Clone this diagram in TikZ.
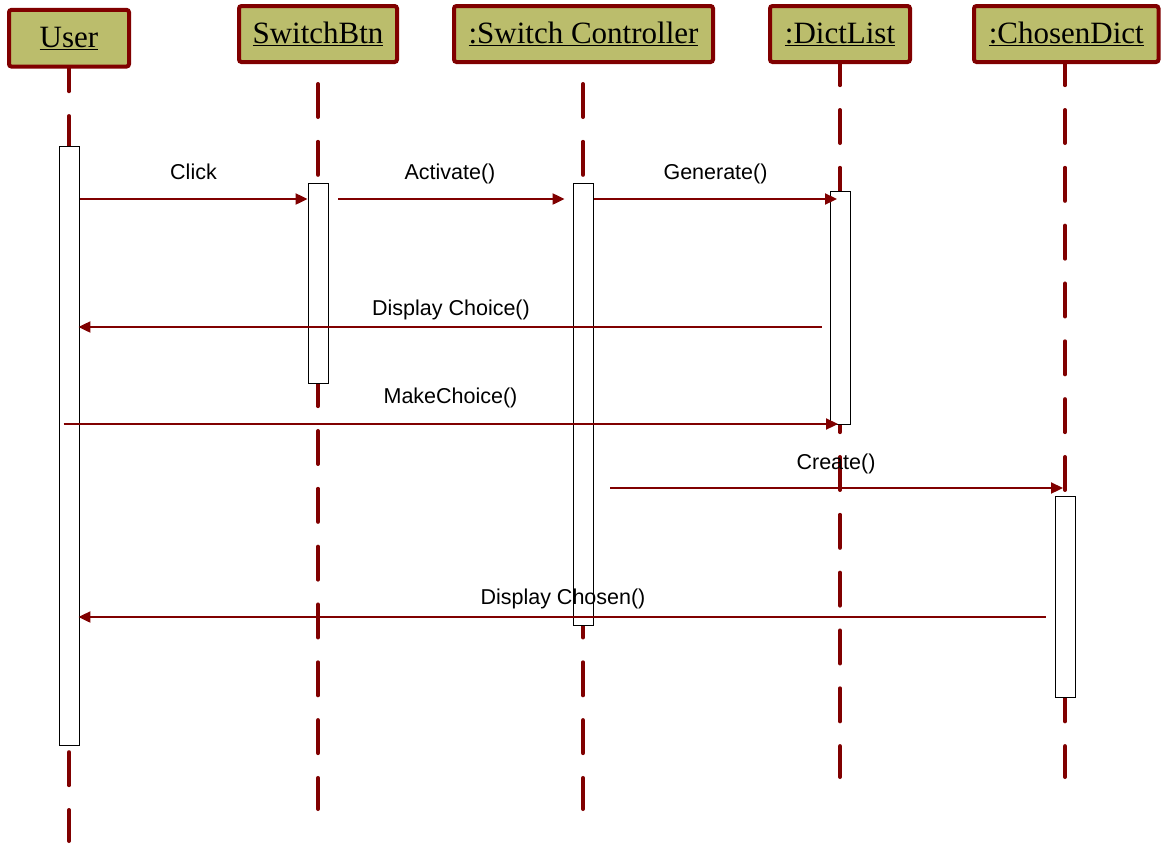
\documentclass[tikz,border=0pt]{standalone}
\usepackage{fontspec}
\setmainfont{Liberation Serif}
\newfontfamily\labfont{Liberation Sans}
\usetikzlibrary{arrows.meta,backgrounds}
\definecolor{dred}{RGB}{128,0,0}
\definecolor{olivefill}{RGB}{187,189,108}
\tikzset{
  head/.style={draw=dred, line width=4pt, fill=olivefill, rounded corners=2.5pt,
    inner sep=0pt, font=\fontsize{31}{36}\selectfont},
  life/.style={draw=dred, line width=4pt, line cap=round,
    dash pattern=on 33pt off 24.83pt},
  actbox/.style={draw=black, line width=0.9pt, fill=white, minimum width=20pt, inner sep=0pt},
  msg/.style={draw=dred, line width=2.2pt, -{Triangle[length=12pt,width=11pt]}},
  lbl/.style={font=\labfont\fontsize{21.5}{24}\selectfont, anchor=base, inner sep=0pt},
}
\begin{document}
\begin{tikzpicture}[x=1pt,y=-1pt]
\useasboundingbox (0,0) rectangle (1161,846);
% heads
\node[head, minimum width=120pt, minimum height=56.7pt] (uhead) at (69,38.2) {\underline{User}};
\node[head, minimum width=158pt, minimum height=56pt] (shead) at (318,34) {\underline{SwitchBtn}};
\node[head, minimum width=259pt, minimum height=56pt] (chead) at (583.5,34) {\underline{:Switch Controller}};
\node[head, minimum width=140pt, minimum height=56pt] (dhead) at (840,34) {\underline{:DictList}};
\node[head, minimum width=184.5pt, minimum height=56pt] (xhead) at (1066.25,34) {\underline{:ChosenDict}};
% lifeline ends
\coordinate (uend) at (69,841);
\coordinate (send) at (318,809);
\coordinate (cend) at (583,809);
\coordinate (dend) at (840,777);
\coordinate (xend) at (1065,777);
\begin{pgfonlayer}{background}
\fill[white] (0,0) rectangle (1161,846);
\draw[life, dash phase=10.33pt] (uhead.south) -- (uend);
\draw[life, dash phase=37.83pt] (shead.south) -- (send);
\draw[life, dash phase=37.83pt] (chead.south -| cend) -- (cend);
\draw[life, dash phase=11.83pt] (dhead.south) -- (dend);
\draw[life, dash phase=11.83pt] (xhead.south -| xend) -- (xend);
\end{pgfonlayer}
% activation boxes
\node[actbox, minimum height=599pt] (uact) at (69,445.5) {};
\node[actbox, minimum height=200pt] (sact) at (318,283) {};
\node[actbox, minimum height=442pt] (cact) at (583,404) {};
\node[actbox, minimum height=233pt] (dact) at (840,307.5) {};
\node[actbox, minimum height=201pt] (xact) at (1065,596.5) {};
% message rows
\coordinate (r1) at (0,199);
\coordinate (r2) at (0,327);
\coordinate (r3) at (0,424);
\coordinate (r4) at (0,488);
\coordinate (r5) at (0,617);
% messages
\draw[msg, shorten <=1pt] (uact.east |- r1) -- (sact.west |- r1);
\draw[msg, shorten <=10pt, shorten >=8pt] (sact.east |- r1) -- (cact.west |- r1);
\draw[msg, shorten <=1pt, shorten >=3pt] (cact.east |- r1) -- (dact.center |- r1);
\draw[msg, shorten <=8pt, shorten >=-1pt] (dact.west |- r2) -- (uact.east |- r2);
\draw[msg, shorten <=5pt, shorten >=2pt] (uact.west |- r3) -- (dact.center |- r3);
\draw[msg, shorten <=17pt, shorten >=2pt] (cact.east |- r4) -- (xact.center |- r4);
\draw[msg, shorten <=9pt, shorten >=-1pt] (xact.west |- r5) -- (uact.east |- r5);
% labels
\node[lbl] (l1) at (193.5,179) {Click};
\node[lbl] (l2) at (450,179) {Activate()};
\node[lbl] (l3) at (715.5,179) {Generate()};
\node[lbl] (l4) at (451,315) {Display Choice()};
\node[lbl] (l5) at (450.5,403) {MakeChoice()};
\node[lbl] (l6) at (836,469) {Create()};
\node[lbl] (l7) at (563,604) {Display Chosen()};
\end{tikzpicture}
\end{document}
